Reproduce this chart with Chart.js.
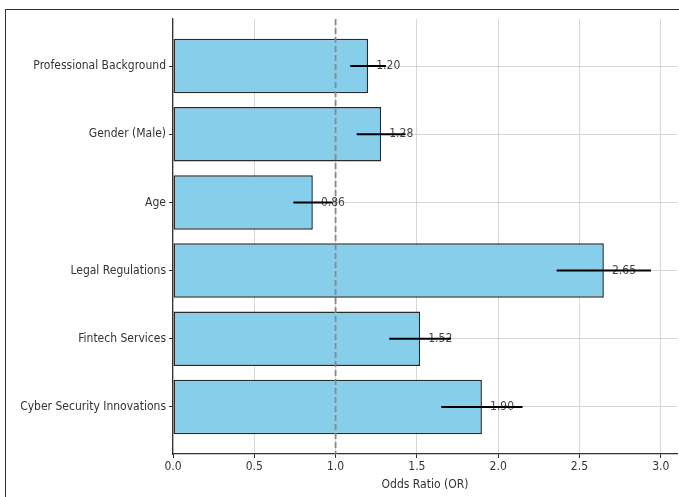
<!DOCTYPE html>
<html>
<head>
<meta charset="utf-8">
<script src="https://cdn.jsdelivr.net/npm/chart.js@4.4.0/dist/chart.umd.min.js"></script>
<style>
  html, body { margin: 0; padding: 0; background: #fff; }
  #wrap { position: relative; width: 679px; height: 497px; }
  #frame { position: absolute; left: 5px; top: 9px; right: 0; bottom: 0;
           border-top: 1.5px solid #333; border-left: 1.5px solid #333; }
  canvas { position: absolute; left: 0; top: 0; }
</style>
</head>
<body>
<div id="wrap">
  <div id="frame"></div>
  <canvas id="chart" width="679" height="497"></canvas>
</div>
<script>
const factors = [
    "Professional Background",
    "Gender (Male)",
    "Age",
    "Legal Regulations",
    "Fintech Services",
    "Cyber Security Innovations"
];
const oddsRatios = [1.20, 1.28, 0.86, 2.65, 1.52, 1.90];
const ciLower = [1.09, 1.13, 0.74, 2.36, 1.33, 1.65];
const ciUpper = [1.31, 1.43, 0.98, 2.94, 1.71, 2.15];
const xTicks = [0.0, 0.5, 1.0, 1.5, 2.0, 2.5, 3.0];
const referenceOR = 1.0;

const FONT = "'DejaVu Sans Condensed', 'DejaVu Sans', sans-serif";
Chart.defaults.font.family = FONT;
Chart.defaults.font.size = 12;
Chart.defaults.color = "#333";

// error bars + value labels + OR=1 line, drawn on top of the bars
const overlayPlugin = {
    id: "overlay",
    afterDatasetsDraw(chart) {
        const ctx = chart.ctx;
        const xs = chart.scales.x;
        const ys = chart.scales.y;
        const area = chart.chartArea;
        ctx.save();

        // reference line at OR = 1
        const rx = xs.getPixelForValue(referenceOR);
        ctx.strokeStyle = "#888";
        ctx.lineWidth = 1.8;
        ctx.setLineDash([6, 3]);
        ctx.beginPath();
        ctx.moveTo(rx, area.top);
        ctx.lineTo(rx, area.bottom);
        ctx.stroke();
        ctx.setLineDash([]);

        ctx.font = "12px " + FONT;
        ctx.textAlign = "left";
        ctx.textBaseline = "middle";
        for (let i = 0; i < factors.length; i++) {
            const y = ys.getPixelForValue(i);
            ctx.fillStyle = "#444";
            ctx.fillText(oddsRatios[i].toFixed(2), xs.getPixelForValue(oddsRatios[i] + 0.05), y);
            ctx.strokeStyle = "#000";
            ctx.lineWidth = 2;
            ctx.beginPath();
            ctx.moveTo(xs.getPixelForValue(ciLower[i]), y);
            ctx.lineTo(xs.getPixelForValue(ciUpper[i]), y);
            ctx.stroke();
        }
        ctx.restore();
    }
};

const gridStyle = {
    color: "rgba(205,205,205,0.8)",
    lineWidth: 1,
    borderDash: [2, 3],
    tickColor: "#333",
    tickBorderDash: [],
    tickLength: 4,
    tickWidth: 1,
    offset: false,
};

const data = {
    datasets: [{
        label: "Odds Ratio",
        data: oddsRatios.map((v, i) => ({ x: v, y: i })),
        backgroundColor: "#87CEEB",
        borderColor: "#2a2a2a",
        borderWidth: 1.5,
        borderSkipped: false,
        barPercentage: 0.8,
        categoryPercentage: 1.0,
    }]
};

const config = {
    type: "bar",
    data: data,
    options: {
        indexAxis: "y",
        responsive: false,
        animation: false,
        layout: { padding: { top: 19, right: 2, left: 0, bottom: 5 } },
        plugins: {
            legend: { display: false },
            tooltip: { enabled: false },
        },
        scales: {
            x: {
                type: "linear",
                min: 0,
                max: 3.1,
                z: 1,
                afterBuildTicks: (s) => { s.ticks = xTicks.map(v => ({ value: v })); },
                afterFit: (s) => { s.height = 38; },
                ticks: {
                    color: "#333",
                    padding: 2,
                    callback: (v) => Number(v).toFixed(1),
                },
                grid: gridStyle,
                border: { display: true, color: "#333", width: 1.2 },
                title: {
                    display: true,
                    text: "Odds Ratio (OR)",
                    color: "#333",
                    padding: { top: 2, bottom: 0 },
                },
            },
            y: {
                type: "linear",
                reverse: true,
                offset: false,
                min: -0.69,
                max: 5.69,
                z: 1,
                afterBuildTicks: (s) => { s.ticks = factors.map((f, i) => ({ value: i })); },
                afterFit: (s) => { s.width = 173; },
                ticks: {
                    color: "#333",
                    padding: 3,
                    callback: (v) => factors[v],
                },
                grid: gridStyle,
                border: { display: true, color: "#333", width: 1.2 },
            },
        },
    },
    plugins: [overlayPlugin],
};

window.myChart = new Chart(document.getElementById("chart").getContext("2d"), config);
</script>
</body>
</html>
